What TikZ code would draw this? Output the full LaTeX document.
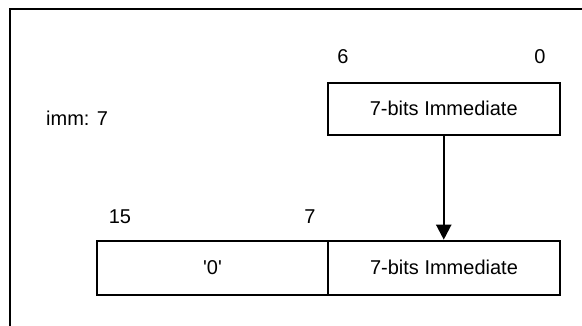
\documentclass[tikz,border=0pt]{standalone}
\usepackage{fontspec}
\setmainfont{Liberation Sans}[Ligatures=TeXOff]
\usetikzlibrary{arrows.meta}
\begin{document}
\begin{tikzpicture}[x=1pt,y=-1pt,
  field/.style={draw, line width=2pt, inner sep=0pt,
    font=\fontsize{20}{24}\selectfont},
  bitno/.style={inner sep=0pt, font=\fontsize{20}{24}\selectfont},
  feed/.style={line width=2.2pt, -{Triangle[length=15pt,width=15pt]}},
]
\useasboundingbox (0,0) rectangle (582,326);
% frame (only its top and left sides fall inside the page)
\coordinate (fbl) at (10,326);
\coordinate (ftl) at (10,9);
\coordinate (ftr) at (582,9);
\draw[line width=2pt] (fbl) -- (ftl) -- (ftr);

% source field
\node[bitno, anchor=west] (lbl) at (46,118.5) {imm: 7};
\node[field, minimum width=232.5pt, minimum height=52.3pt] (src) at (443.75,108.85) {7-bits Immediate};
\node[bitno] (s6) at (343,57) {6};
\node[bitno] (s0) at (540,57) {0};

% 16-bit result
\node[field, minimum width=231pt, minimum height=54.3pt] (zero) at (212.5,267.85) {'0'};
\node[field, minimum width=232pt, minimum height=54.3pt] (dst) at (444,267.85) {7-bits Immediate};
\node[bitno] (d15) at (120,217) {15};
\node[bitno] (d7) at (310,217) {7};

\draw[feed] (src.south) -- (src.south |- dst.north);
\end{tikzpicture}
\end{document}
